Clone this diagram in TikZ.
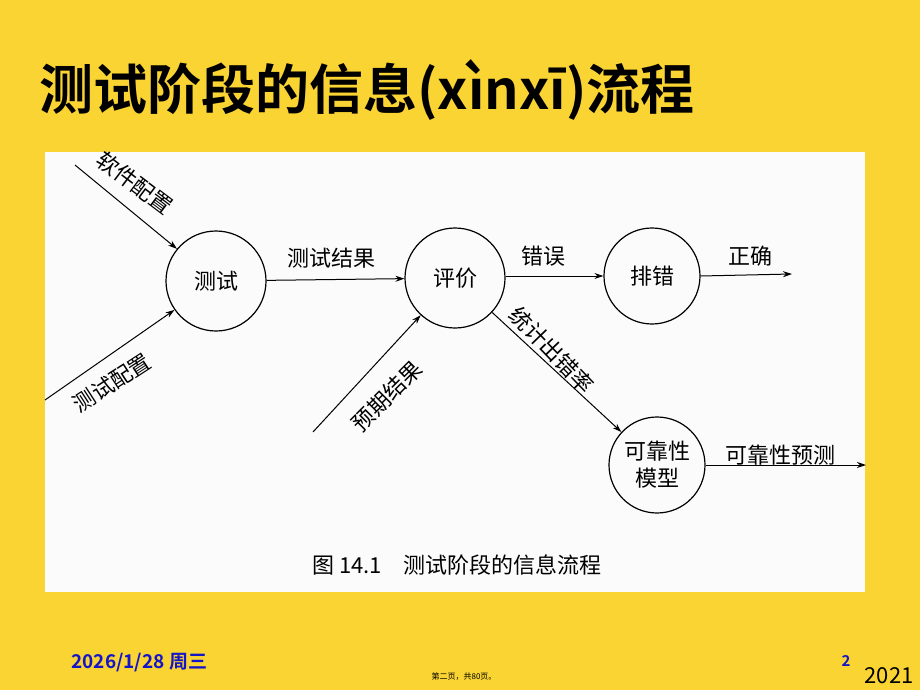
\documentclass[tikz,border=0pt]{standalone}
\usepackage{fontspec}
\newfontfamily\cjk{Noto Sans CJK SC}
\newfontfamily\cjkb{Noto Sans CJK SC Bold}
\usetikzlibrary{arrows.meta}
\definecolor{slideyellow}{RGB}{250,212,50}
\definecolor{datablue}{RGB}{20,20,200}
\begin{document}
\begin{tikzpicture}[x=1pt, y=-1pt,
    proc/.style={circle, draw, line width=1.2pt, minimum size=100pt, inner sep=0pt, align=center, font=\cjk\fontsize{22}{27}\selectfont},
    flow/.style={-{Stealth[length=9pt,width=6pt]}, line width=1pt},
    lbl/.style={font=\cjk\fontsize{22}{26}\selectfont}]
    \fill[slideyellow] (0,0) rectangle (920,690);
    \fill[white!97!gray] (45,152) rectangle (865,592);
    \useasboundingbox (0,0) rectangle (920,690);

    % title
    \node[anchor=west, font=\cjkb\fontsize{54}{60}\selectfont] (title) at (36,90) {测试阶段的信息(xìnxī)流程};

    % processes
    \node[proc] (test) at (216,281) {测试};
    \node[proc] (eval) at (455,278) {评价};
    \node[proc, minimum size=96pt] (debug) at (652,276) {排错};
    \node[proc, minimum size=96pt] (model) at (657,465) {可靠性\\模型};

    % free ends
    \coordinate (swin) at (75,165);
    \coordinate (tcin) at (45,400);
    \coordinate (expin) at (313,432);
    \coordinate (okout) at (792,274);
    \coordinate (predout) at (866,465);

    \draw[flow] (swin) -- (test);
    \draw[flow] (tcin) -- (test);
    \draw[flow] (test) -- (eval);
    \draw[flow] (expin) -- (eval);
    \draw[flow] (eval.east |- debug.west) -- (debug.west);
    \draw[flow] (debug.east) -- (okout);
    \draw[flow] (eval) -- (model);
    \draw[flow] (model.east) -- (predout);

    \node[lbl, rotate=-37] (swlbl) at (135,183) {软件配置};
    \node[lbl, rotate=33] (tclbl) at (112,383) {测试配置};
    \node[lbl] (reslbl) at (331,258) {测试结果};
    \node[lbl, rotate=45] (explbl) at (387,396) {预期结果};
    \node[lbl] (errlbl) at (543,256) {错误};
    \node[lbl] (oklbl) at (750,256) {正确};
    \node[lbl, rotate=-46] (ratelbl) at (552,350) {统计出错率};
    \node[lbl] (predlbl) at (780,455) {可靠性预测};

    % caption
    \node[font=\cjk\fontsize{22}{26}\selectfont] (caption) at (457,565) {图 14.1\quad 测试阶段的信息流程};

    % footer
    \node[anchor=west, text=datablue, font=\cjkb\fontsize{19}{22}\selectfont] (date) at (68,663) {2026/1/28 周三};
    \node[font=\cjk\fontsize{8}{10}\selectfont] (page) at (464,677) {第二页，共80页。};
    \node[text=datablue, font=\cjkb\fontsize{15}{17}\selectfont] (num) at (846,661) {2};
    \node[font=\cjk\fontsize{22}{25}\selectfont] (year) at (889,676) {2021};
\end{tikzpicture}
\end{document}
